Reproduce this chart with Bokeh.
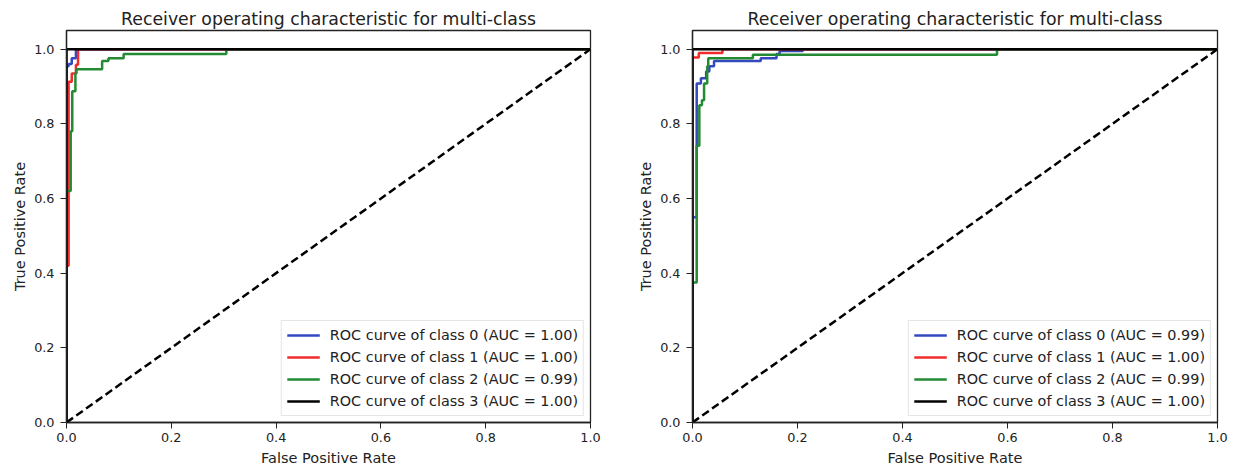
from bokeh.plotting import figure
from bokeh.layouts import row
from bokeh.models import Range1d, FixedTicker, Legend, LegendItem, CustomJSTickFormatter
from bokeh.embed import file_html
from bokeh.resources import INLINE

TITLE = "Receiver operating characteristic for multi-class"
XLABEL = "False Positive Rate"
YLABEL = "True Positive Rate"
TICKS = [0.0, 0.2, 0.4, 0.6, 0.8, 1.0]

left_labels = ["ROC curve of class 0 (AUC = 1.00)", "ROC curve of class 1 (AUC = 1.00)",
               "ROC curve of class 2 (AUC = 0.99)", "ROC curve of class 3 (AUC = 1.00)"]
right_labels = ["ROC curve of class 0 (AUC = 0.99)", "ROC curve of class 1 (AUC = 1.00)",
                "ROC curve of class 2 (AUC = 0.99)", "ROC curve of class 3 (AUC = 1.00)"]

# Left panel curves
l_fpr0 = [0, 0, 0.004, 0.004, 0.01, 0.01, 0.018, 0.018, 1.0]
l_tpr0 = [0, 0.954, 0.954, 0.96, 0.96, 0.976, 0.976, 1.0, 1.0]
l_fpr1 = [0, 0, 0.004, 0.004, 0.01, 0.01, 0.018, 0.018, 0.022, 0.022, 1.0]
l_tpr1 = [0, 0.42, 0.42, 0.913, 0.913, 0.935, 0.935, 0.958, 0.958, 1.0, 1.0]
l_fpr2 = [0, 0, 0.008, 0.008, 0.011, 0.011, 0.017, 0.017, 0.019, 0.019, 0.068, 0.068,
          0.08, 0.08, 0.109, 0.109, 0.305, 0.305, 1.0]
l_tpr2 = [0, 0.62, 0.62, 0.78, 0.78, 0.887, 0.887, 0.935, 0.935, 0.946, 0.946, 0.968,
          0.968, 0.976, 0.976, 0.987, 0.987, 1.0, 1.0]
l_fpr3 = [0, 0, 1.0]
l_tpr3 = [0, 1.0, 1.0]

# Right panel curves
r_fpr0 = [0, 0, 0.008, 0.008, 0.016, 0.016, 0.026, 0.026, 0.032, 0.032, 0.041, 0.041,
          0.13, 0.13, 0.16, 0.16, 0.166, 0.166, 0.21, 0.21, 1.0]
r_tpr0 = [0, 0.55, 0.55, 0.908, 0.908, 0.922, 0.922, 0.94, 0.94, 0.954, 0.954, 0.968,
          0.968, 0.976, 0.976, 0.987, 0.987, 0.995, 0.995, 1.0, 1.0]
r_fpr1 = [0, 0, 0.012, 0.012, 0.057, 0.057, 1.0]
r_tpr1 = [0, 0.978, 0.978, 0.99, 0.99, 1.0, 1.0]
r_fpr2 = [0, 0, 0.008, 0.008, 0.013, 0.013, 0.018, 0.018, 0.022, 0.022, 0.028, 0.028,
          0.03, 0.03, 0.115, 0.115, 0.58, 0.58, 1.0]
r_tpr2 = [0, 0.375, 0.375, 0.741, 0.741, 0.85, 0.85, 0.863, 0.863, 0.908, 0.908, 0.954,
          0.954, 0.976, 0.976, 0.985, 0.985, 1.0, 1.0]
r_fpr3 = [0, 0, 1.0]
r_tpr3 = [0, 1.0, 1.0]

diag = [0.0, 1.0]

COLORS = ["#3548c0", "#f02c2c", "#248a34", "#000000"]
FONT = "DejaVu Sans"


def make_panel(curves, labels, width, border_left, border_right):
    p = figure(width=width, height=470, output_backend="svg", toolbar_location=None,
               x_range=Range1d(0, 1.0), y_range=Range1d(0, 1.05),
               min_border_left=border_left, min_border_right=border_right,
               min_border_top=30, min_border_bottom=48)
    p.title.text = TITLE
    p.title.align = "center"
    p.title.text_font = FONT
    p.title.text_font_size = "17.3px"
    p.title.text_font_style = "normal"
    p.title.text_color = "#222222"
    p.title.standoff = 3
    p.xgrid.visible = False
    p.ygrid.visible = False
    p.outline_line_color = "#222222"
    p.outline_line_width = 1.3
    p.background_fill_color = "white"
    for ax, lab in ((p.xaxis[0], XLABEL), (p.yaxis[0], YLABEL)):
        ax.axis_label = lab
        ax.axis_label_text_font = FONT
        ax.axis_label_text_font_size = "14.5px"
        ax.axis_label_text_font_style = "normal"
        ax.axis_label_text_color = "#222222"
        ax.major_label_text_font = FONT
        ax.major_label_text_font_size = "12.8px"
        ax.major_label_text_color = "#222222"
        ax.ticker = FixedTicker(ticks=TICKS)
        ax.formatter = CustomJSTickFormatter(code="return tick.toFixed(1);")
        ax.major_tick_in = 0
        ax.major_tick_out = 6
        ax.minor_tick_line_color = None
        ax.axis_line_color = "#222222"
        ax.axis_line_width = 1.3
        ax.major_tick_line_color = "#222222"
    p.xaxis[0].major_label_standoff = 4
    p.yaxis[0].major_label_standoff = 6
    p.xaxis[0].axis_label_standoff = 5
    p.yaxis[0].axis_label_standoff = 3
    items = []
    for (fx, ty), lab, col in zip(curves, labels, COLORS):
        r = p.line(fx, ty, line_color=col, line_width=2.5)
        items.append(LegendItem(label=lab, renderers=[r]))
    p.line(diag, diag, line_color="black", line_width=2.5, line_dash="8 4")
    leg = Legend(items=items, location="bottom_right")
    leg.label_text_font = FONT
    leg.label_text_font_size = "14.4px"
    leg.label_text_color = "#222222"
    leg.glyph_width = 33
    leg.glyph_height = 18
    leg.label_height = 18
    leg.label_standoff = 10
    leg.spacing = 4
    leg.padding = 5
    leg.margin = 6
    leg.border_line_color = "#cccccc"
    leg.border_line_width = 1
    leg.background_fill_alpha = 0.9
    p.add_layout(leg, "center")
    return p


left = make_panel([(l_fpr0, l_tpr0), (l_fpr1, l_tpr1), (l_fpr2, l_tpr2), (l_fpr3, l_tpr3)],
                  left_labels, 628, 66, 38)
right = make_panel([(r_fpr0, r_tpr0), (r_fpr1, r_tpr1), (r_fpr2, r_tpr2), (r_fpr3, r_tpr3)],
                   right_labels, 600, 64, 11)

layout = row(left, right)
open("out.html", "w").write(file_html(layout, INLINE))
